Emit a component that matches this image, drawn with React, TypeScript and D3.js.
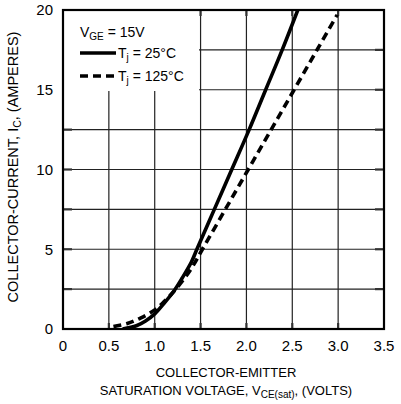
import * as d3 from 'd3';

// T_j = 25°C curve (V_CE(sat) volts, I_C amperes)
const curve25: [number, number][] = [
  [0.65, 0], [0.8, 0.2], [0.9, 0.5], [1.0, 0.95], [1.1, 1.6], [1.2, 2.3], [1.3, 3.2],
  [1.4, 4.2], [1.46, 5.0], [1.65, 7.5], [1.84, 10], [2.03, 12.5], [2.21, 15], [2.39, 17.5], [2.56, 20],
];
// T_j = 125°C curve
const curve125: [number, number][] = [
  [0.55, 0.15], [0.7, 0.35], [0.85, 0.7], [1.0, 1.2], [1.1, 1.7], [1.2, 2.3], [1.3, 3.0],
  [1.4, 3.8], [1.52, 5.0], [1.77, 7.5], [2.02, 10], [2.27, 12.5], [2.52, 15], [2.76, 17.4], [2.99, 19.7],
];

const xTicks = [0, 0.5, 1.0, 1.5, 2.0, 2.5, 3.0, 3.5];
const yTicks = [0, 5, 10, 15, 20];
const xGrid = [0.5, 1.0, 1.5, 2.0, 2.5, 3.0];
const yGrid = [2.5, 5, 7.5, 10, 12.5, 15, 17.5];

const FONT = '"Liberation Sans", Arial, Helvetica, sans-serif';

export default function App() {
  const width = 401;
  const height = 404;
  const margin = { top: 10, right: 17, bottom: 75, left: 63 };

  const x = d3.scaleLinear().domain([0, 3.5]).range([margin.left, width - margin.right]);
  const y = d3.scaleLinear().domain([0, 20]).range([height - margin.bottom, margin.top]);

  const line = d3.line<[number, number]>()
    .x((d) => x(d[0]))
    .y((d) => y(d[1]))
    .curve(d3.curveCatmullRom.alpha(0.5));

  const [x0, x1] = x.range();
  const [y0, y1] = y.range();

  return (
    <div style={{ position: 'absolute', left: 0, top: 0 }}>
      <svg width={width} height={height} style={{ display: 'block', background: '#fff' }} fontFamily={FONT}>
        <defs>
          <clipPath id='plot'>
            <rect x={x0} y={y1} width={x1 - x0} height={y0 - y1} />
          </clipPath>
        </defs>

        {/* grid */}
        {xGrid.map((v) => (
          <line key={'gx' + v} x1={x(v)} x2={x(v)} y1={y1} y2={y0} stroke='#222' strokeWidth={1.2} />
        ))}
        {yGrid.map((v) => (
          <line key={'gy' + v} x1={x0} x2={x1} y1={y(v)} y2={y(v)} stroke='#222' strokeWidth={1.2} />
        ))}

        {/* inward ticks on all four sides */}
        {xGrid.map((v) => (
          <g key={'tx' + v} stroke='#333' strokeWidth={2.2}>
            <line x1={x(v)} x2={x(v)} y1={y1} y2={y1 + 6} />
            <line x1={x(v)} x2={x(v)} y1={y0} y2={y0 - 6} />
          </g>
        ))}
        {yGrid.map((v) => (
          <g key={'ty' + v} stroke='#333' strokeWidth={2.2}>
            <line x1={x0} x2={x0 + 9} y1={y(v)} y2={y(v)} />
            <line x1={x1} x2={x1 - 9} y1={y(v)} y2={y(v)} />
          </g>
        ))}

        {/* legend background */}
        <rect x={x0 + 1} y={y1 + 1} width={135} height={80} fill='#fff' />

        {/* curves */}
        <g clipPath='url(#plot)' fill='none' stroke='#000' strokeWidth={3.6}>
          <path d={line(curve25) ?? ''} />
          <path d={line(curve125) ?? ''} strokeDasharray='8,5' />
        </g>

        {/* frame */}
        <rect x={x0} y={y1} width={x1 - x0} height={y0 - y1} fill='none' stroke='#000' strokeWidth={2.2} />

        {/* tick labels */}
        {yTicks.map((v) => (
          <text key={'ly' + v} x={x0 - 10} y={y(v)} dy='0.36em' textAnchor='end' fontSize={15}>{v}</text>
        ))}
        {xTicks.map((v) => (
          <text key={'lx' + v} x={x(v)} y={y0 + 22} textAnchor='middle' fontSize={15}>
            {v === 0 ? '0' : v.toFixed(1)}
          </text>
        ))}

        {/* legend */}
        <text x={80} y={37} fontSize={14}>
          V<tspan fontSize={10} dy={3}>GE</tspan><tspan dy={-3}> = 15V</tspan>
        </text>
        <line x1={80} x2={116} y1={53} y2={53} stroke='#000' strokeWidth={3.6} />
        <text x={118} y={58} fontSize={14}>
          T<tspan fontSize={10} dy={3}>j</tspan><tspan dy={-3}> = 25°C</tspan>
        </text>
        <line x1={80} x2={116} y1={76} y2={76} stroke='#000' strokeWidth={3.6} strokeDasharray='8,5' />
        <text x={118} y={81} fontSize={14}>
          T<tspan fontSize={10} dy={3}>j</tspan><tspan dy={-3}> = 125°C</tspan>
        </text>

        {/* axis titles */}
        <text x={226} y={377} textAnchor='middle' fontSize={13}>COLLECTOR-EMITTER</text>
        <text x={226} y={395} textAnchor='middle' fontSize={13}>
          SATURATION VOLTAGE, V<tspan fontSize={10} dy={3}>CE(sat)</tspan><tspan dy={-3}>, (VOLTS)</tspan>
        </text>
        <text transform='translate(18, 167) rotate(-90)' textAnchor='middle' fontSize={14.5}>
          COLLECTOR-CURRENT, I<tspan fontSize={10.5} dy={3}>C</tspan><tspan dy={-3}>, (AMPERES)</tspan>
        </text>
      </svg>
    </div>
  );
}
